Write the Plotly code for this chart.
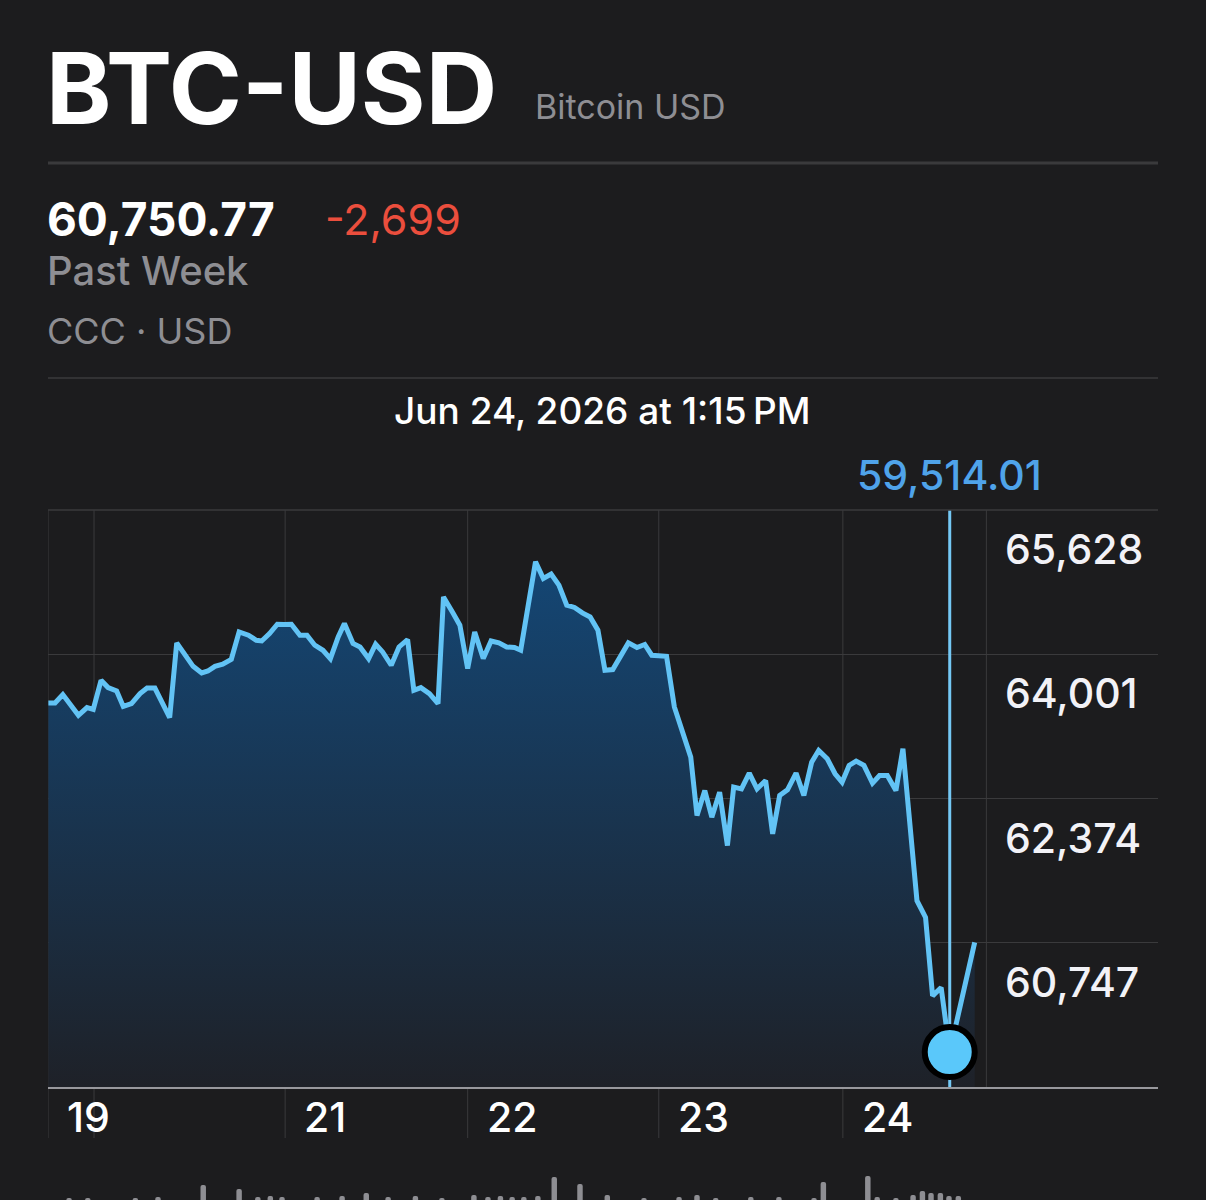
import plotly.graph_objects as go

# ---- data (hours since the "20" gridline, price in USD) ----
hours = [-5.85, -5.0, -4.0, -2.0, -0.9, -0.1, 0.9, 1.8, 2.9, 3.75, 4.8, 5.9, 6.8, 7.8,
         9.7, 10.6, 12.7, 13.8, 14.6, 15.5, 16.5, 17.6, 18.6, 19.8, 20.8, 21.5, 22.5,
         23.5, 24.4, 25.3, 26.4, 27.3, 28.3, 29.35, 30.3, 31.3, 32.1, 33.2, 34.1, 35.2,
         36.1, 37.0, 38.1, 39.1, 40.2, 41.0, 41.9, 43.0, 44.1, 44.8, 46.0, 46.9, 47.9,
         48.8, 49.9, 50.9, 51.9, 52.9, 53.9, 54.7, 56.6, 57.6, 58.6, 59.6, 60.6, 61.6,
         62.6, 63.6, 64.6, 65.5, 66.5, 67.5, 68.5, 69.6, 70.6, 71.5, 72.5, 73.4, 74.4,
         75.5, 76.5, 77.3, 78.3, 79.2, 80.2, 81.2, 82.0, 83.0, 84.0, 85.0, 86.1, 87.0,
         87.9, 88.9, 90.0, 91.0, 92.0, 92.9, 94.0, 95.0, 95.9, 96.8, 97.7, 98.7, 99.8,
         100.7, 101.7, 102.8, 103.7, 105.5, 106.6, 107.5, 108.6, 109.7, 112.9]
prices = [63449.77, 63451, 63546, 63312, 63399, 63380, 63707, 63625, 63586, 63413, 63444,
          63557, 63620, 63620, 63286, 64129, 63865, 63790, 63812, 63865, 63888, 63944,
          64253, 64216, 64159, 64151, 64235, 64340, 64336, 64340, 64216, 64216, 64103,
          64046, 63952, 64196, 64348, 64122, 64083, 63952, 64114, 64027, 63877, 64083,
          64167, 63594, 63625, 63557, 63444, 64648, 64468, 64329, 63839, 64253, 63952,
          64151, 64129, 64083, 64077, 64046, 65044, 64856, 64905, 64781, 64555, 64529,
          64468, 64422, 64272, 63820, 63828, 63971, 64129, 64077, 64111, 63990, 63990,
          63978, 63406, 63123, 62841, 62182, 62464, 62163, 62445, 61843, 62502, 62483,
          62660, 62483, 62577, 61975, 62408, 62472, 62660, 62408, 62784, 62916, 62822,
          62653, 62558, 62747, 62795, 62747, 62547, 62634, 62634, 62464, 62935, 61221,
          61032, 60148, 60242, 59514.01, 60750.77]
selected = 113  # point under the cursor

y_ticks = [65628, 64001, 62374, 60747]
day_lines = [0, 24.5, 47.9, 72.4, 96.0]
day_labels = ["21", "22", "23", "24"]
x_range = [-5.9, 136.4]
session_end = 114.4

vol_hours = [-3.2, -0.8, 5.3, 8.2, 14.0, 18.6, 21.0, 22.6, 24.1, 28.6, 31.8, 34.9, 37.7,
             41.2, 44.6, 48.7, 50.5, 52.1, 53.6, 55.1, 56.9, 59.0, 62.3, 65.8, 70.5, 75.0,
             77.3, 79.7, 84.2, 87.8, 92.3, 93.5, 99.2, 100.4, 102.8, 105.0, 106.2, 107.3,
             108.5, 109.6, 110.8]
vol_values = [2, 2, 2, 3, 15, 11, 3, 4, 3, 3, 4, 7, 3, 4, 2, 5, 3, 4, 3, 3, 4, 23, 16, 5,
              2, 3, 5, 2, 3, 3, 2, 18, 24, 3, 2, 5, 9, 7, 7, 4, 4]

BG = "#1c1c1e"
GRID = "#3a3a3c"
GRAY = "#8e8e93"
BLUE = "#62c3f5"
FONT = "Inter, Roboto, sans-serif"

W, H, L, R = 1206, 1200, 48, 48
PW = W - L - R


def px(x, y):
    return (x - L) / PW, (H - y) / H


y_step = y_ticks[0] - y_ticks[1]
y_bottom = y_ticks[-1] - y_step
top_p = px(0, 510)[1]
axis_p = px(0, 1087)[1]
under_p = px(0, 1138)[1]

fig = go.Figure()

fig.add_trace(go.Bar(
    x=vol_hours, y=vol_values, yaxis="y2", width=0.7,
    marker=dict(color=GRAY, line_width=0), hoverinfo="skip",
))

fig.add_trace(go.Scatter(
    x=hours, y=prices, mode="lines",
    line=dict(color=BLUE, width=5),
    fill="tozeroy",
    fillgradient=dict(type="vertical", start=y_bottom, stop=y_ticks[0],
                      colorscale=[[0, "#1e2128"], [1, "#134a7c"]]),
    hoverinfo="skip",
))

sx, sy = hours[selected], prices[selected]
fig.add_trace(go.Scatter(
    x=[sx, sx], y=[y_bottom, y_ticks[0]], mode="lines",
    line=dict(color="#74c8f5", width=3), hoverinfo="skip", cliponaxis=False,
))
fig.add_trace(go.Scatter(
    x=[sx], y=[sy], mode="markers",
    marker=dict(size=50, color="#5ac8fa", line=dict(color="#000000", width=6)),
    cliponaxis=False, hoverinfo="skip",
))

shapes = []
# vertical day gridlines (extend below the axis)
for d in [x_range[0]] + day_lines:
    shapes.append(dict(type="line", xref="x", yref="paper", x0=d, x1=d,
                       y0=under_p, y1=top_p, line=dict(color=GRID, width=1), layer="below"))
shapes.append(dict(type="line", xref="x", yref="paper", x0=session_end, x1=session_end,
                   y0=axis_p, y1=top_p, line=dict(color=GRID, width=1), layer="below"))
# header separators
for yy, w in [(163, 3), (378, 1.5)]:
    shapes.append(dict(type="line", xref="paper", yref="paper", x0=0, x1=1,
                       y0=px(0, yy)[1], y1=px(0, yy)[1], line=dict(color=GRID, width=w)))
# top border of the chart
shapes.append(dict(type="line", xref="paper", yref="paper", x0=0, x1=1,
                   y0=top_p, y1=top_p, line=dict(color=GRID, width=1.5)))

ann = []


def text(s, x, y, size, color="#ffffff", weight=400, anchor="left"):
    xp, yp = px(x, y)
    ann.append(dict(text=s, x=xp, y=yp, xref="paper", yref="paper", showarrow=False,
                    xanchor=anchor, yanchor="middle",
                    font=dict(family=FONT, size=size, color=color, weight=weight)))


change = prices[-1] - prices[0]
text("BTC-USD", 44, 88, 99, weight=700)
text("Bitcoin USD", 533, 107, 34, GRAY)
text(f"{prices[-1]:,.2f}", 45, 219, 46, weight=700)
text(f"{change:,.0f}", 323, 219, 43, "#eb4e3d")
text("Past Week", 45, 270, 40, GRAY, weight=500)
text("CCC · USD", 45, 331, 36, GRAY)
text("Jun 24, 2026 at 1:15\u2009PM", 602, 410, 37, weight=500, anchor="center")

ann.append(dict(text=f"{sy:,.2f}", x=sx, y=px(0, 475)[1], xref="x", yref="paper",
                showarrow=False, xanchor="center", yanchor="middle",
                font=dict(family=FONT, size=41, color="#4fa3ea", weight=500)))

for v in y_ticks:
    ann.append(dict(text=f"{v:,}", x=px(1003, 0)[0], y=v, xref="paper", yref="y",
                    yshift=-39, showarrow=False, xanchor="left", yanchor="middle",
                    font=dict(family=FONT, size=41, color="#f2f2f7", weight=500)))

for d, lab in zip([x_range[0]] + day_lines[1:], ["19"] + day_labels):
    ann.append(dict(text=lab, x=d, y=px(0, 1117)[1], xref="x", yref="paper", xshift=17,
                    showarrow=False, xanchor="left", yanchor="middle",
                    font=dict(family=FONT, size=41, color="#ffffff", weight=500)))

fig.update_layout(
    width=W, height=H,
    margin=dict(l=L, r=R, t=0, b=0),
    paper_bgcolor=BG, plot_bgcolor=BG,
    showlegend=False,
    barcornerradius="50%",
    xaxis=dict(range=x_range, showgrid=False, zeroline=False, showticklabels=False,
               showline=True, linecolor="#98989d", linewidth=2, anchor="y", fixedrange=True),
    yaxis=dict(domain=[axis_p, top_p], range=[y_bottom, y_ticks[0]], tickvals=y_ticks,
               showgrid=True, gridcolor=GRID, gridwidth=1, zeroline=False,
               showticklabels=False, fixedrange=True),
    yaxis2=dict(domain=[0, 60 / H], range=[0, 60], showgrid=False, zeroline=False,
                showticklabels=False, anchor="x", fixedrange=True),
    shapes=shapes,
    annotations=ann,
)

fig.write_html(
    "out.html",
    config={"displayModeBar": False},
    post_script="document.body.style.margin='0';document.body.style.background='#1c1c1e';",
)
